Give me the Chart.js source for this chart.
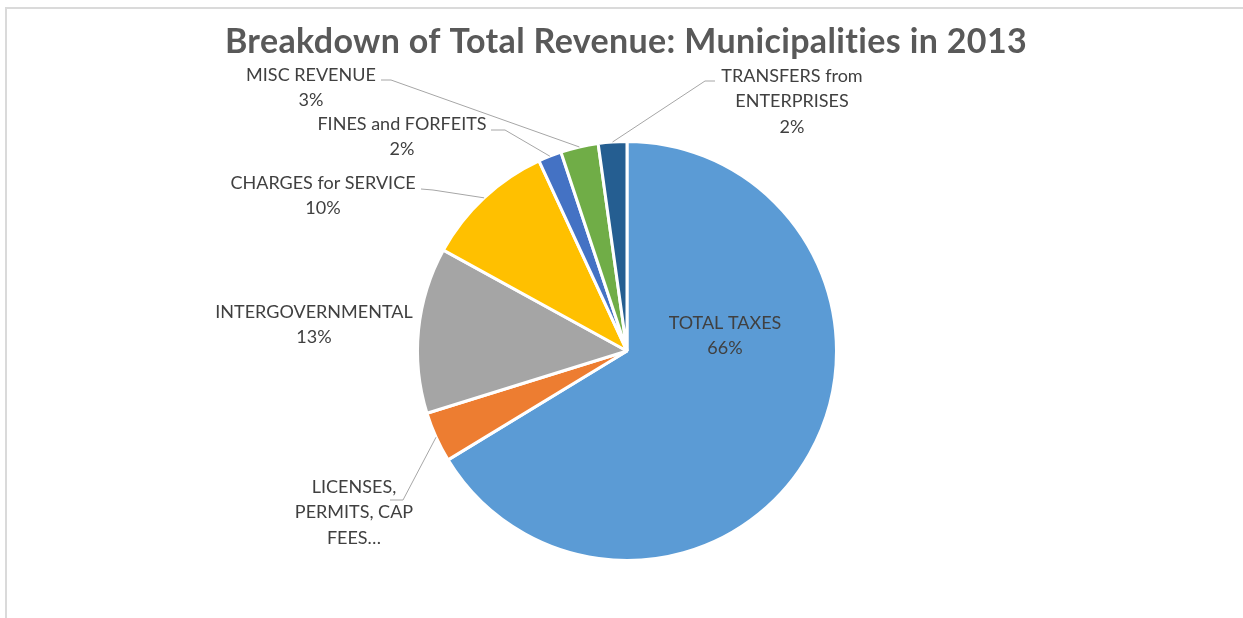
<!DOCTYPE html>
<html>
<head>
<meta charset="utf-8">
<script src="https://cdn.jsdelivr.net/npm/chart.js@4.4.1/dist/chart.umd.min.js"></script>
<style>
  html, body { margin: 0; padding: 0; background: #fff; }
  #wrap { position: relative; width: 1243px; height: 618px; overflow: hidden; }
  #frame { position: absolute; left: 5px; top: 7px; right: -10px; bottom: -10px;
           border-top: 2px solid #dadada; border-left: 2px solid #dadada; }
  canvas { position: absolute; left: 0; top: 0; }
</style>
</head>
<body>
<div id="wrap">
  <div id="frame"></div>
  <canvas id="pie" width="1243" height="618"></canvas>
</div>
<script>
(function () {
  "use strict";

  // ---- data (clockwise from 12 o'clock) ----
  var categories = [
    "TOTAL TAXES",
    "LICENSES, PERMITS, CAP FEES…",
    "INTERGOVERNMENTAL",
    "CHARGES for SERVICE",
    "FINES and FORFEITS",
    "MISC REVENUE",
    "TRANSFERS from ENTERPRISES"
  ];
  var shares = [66.3, 3.9, 12.8, 10.1, 1.8, 2.9, 2.2];
  var colors = ["#5B9BD5", "#ED7D31", "#A5A5A5", "#FFC000", "#4472C4", "#70AD47", "#255E91"];

  // how each data label is wrapped (Excel cut the licenses one short)
  var labelLines = [
    ["TOTAL TAXES"],
    ["LICENSES,", "PERMITS, CAP", "FEES…"],
    ["INTERGOVERNMENTAL"],
    ["CHARGES for SERVICE"],
    ["FINES and FORFEITS"],
    ["MISC REVENUE"],
    ["TRANSFERS from", "ENTERPRISES"]
  ];
  var showPct = [true, false, true, true, true, true, true];

  // label placement, relative to pie centre: text block centre of first line,
  // and (optional) leader start / elbow
  var labelPos = [
    { dx: 98,   dy: -28 },
    { dx: -273, dy: 136, lead: [-237, 149, -224, 149] },
    { dx: -313, dy: -39 },
    { dx: -304, dy: -168, lead: [-206, -162, -194, -161] },
    { dx: -225, dy: -227, lead: [-136, -221, -122, -221] },
    { dx: -316, dy: -276, lead: [-246, -271, -236, -271] },
    { dx: 165,  dy: -275, lead: [88, -270, 78, -270] }
  ];

  // zero-width non-joiner keeps Lato from fusing "ti"
  var TITLE = "Breakdown of Total Revenue: Municipali\u200Cties in 2013";
  var FONT = "Lato, 'Open Sans', sans-serif";

  var total = shares.reduce(function (s, v) { return s + v; }, 0);

  // Excel-style data labels with leader lines, plus the chart title
  var pieLabels = {
    id: "pieLabels",
    afterDatasetsDraw: function (chart) {
      var ctx = chart.ctx;
      var arcs = chart.getDatasetMeta(0).data;
      ctx.save();

      // title
      ctx.fillStyle = "#595959";
      ctx.font = "bold 34px " + FONT;
      ctx.letterSpacing = "0.35px";
      ctx.textAlign = "center";
      ctx.textBaseline = "middle";
      ctx.fillText(TITLE, 626, 42);

      ctx.letterSpacing = "0px";
      ctx.font = "18px " + FONT;
      arcs.forEach(function (arc, i) {
        var p = arc.getProps(["x", "y", "startAngle", "endAngle", "outerRadius"], true);
        var pos = labelPos[i];
        var cx = p.x, cy = p.y;

        if (pos.lead) {
          var mid = (p.startAngle + p.endAngle) / 2;
          var ex = cx + Math.cos(mid) * p.outerRadius;
          var ey = cy + Math.sin(mid) * p.outerRadius;
          ctx.beginPath();
          ctx.moveTo(cx + pos.lead[0], cy + pos.lead[1]);
          ctx.lineTo(cx + pos.lead[2], cy + pos.lead[3]);
          ctx.lineTo(ex, ey);
          ctx.lineWidth = 1;
          ctx.strokeStyle = "#a6a6a6";
          ctx.stroke();
        }

        var lines = labelLines[i].slice();
        if (showPct[i]) lines.push(Math.round(100 * shares[i] / total) + "%");
        ctx.fillStyle = "#404040";
        lines.forEach(function (t, k) {
          ctx.fillText(t, cx + pos.dx, cy + pos.dy + k * 25.5);
        });
      });
      ctx.restore();
    }
  };

  new Chart(document.getElementById("pie"), {
    type: "pie",
    data: {
      labels: categories,
      datasets: [{
        data: shares,
        backgroundColor: colors,
        borderColor: "#ffffff",
        borderWidth: 3
      }]
    },
    options: {
      responsive: false,
      animation: false,
      devicePixelRatio: 1,
      layout: { padding: { left: 416, right: 405, top: 140, bottom: 56 } },
      plugins: {
        legend: { display: false },
        tooltip: { enabled: false },
        title: { display: false }
      }
    },
    plugins: [pieLabels]
  });
})();
</script>
</body>
</html>
